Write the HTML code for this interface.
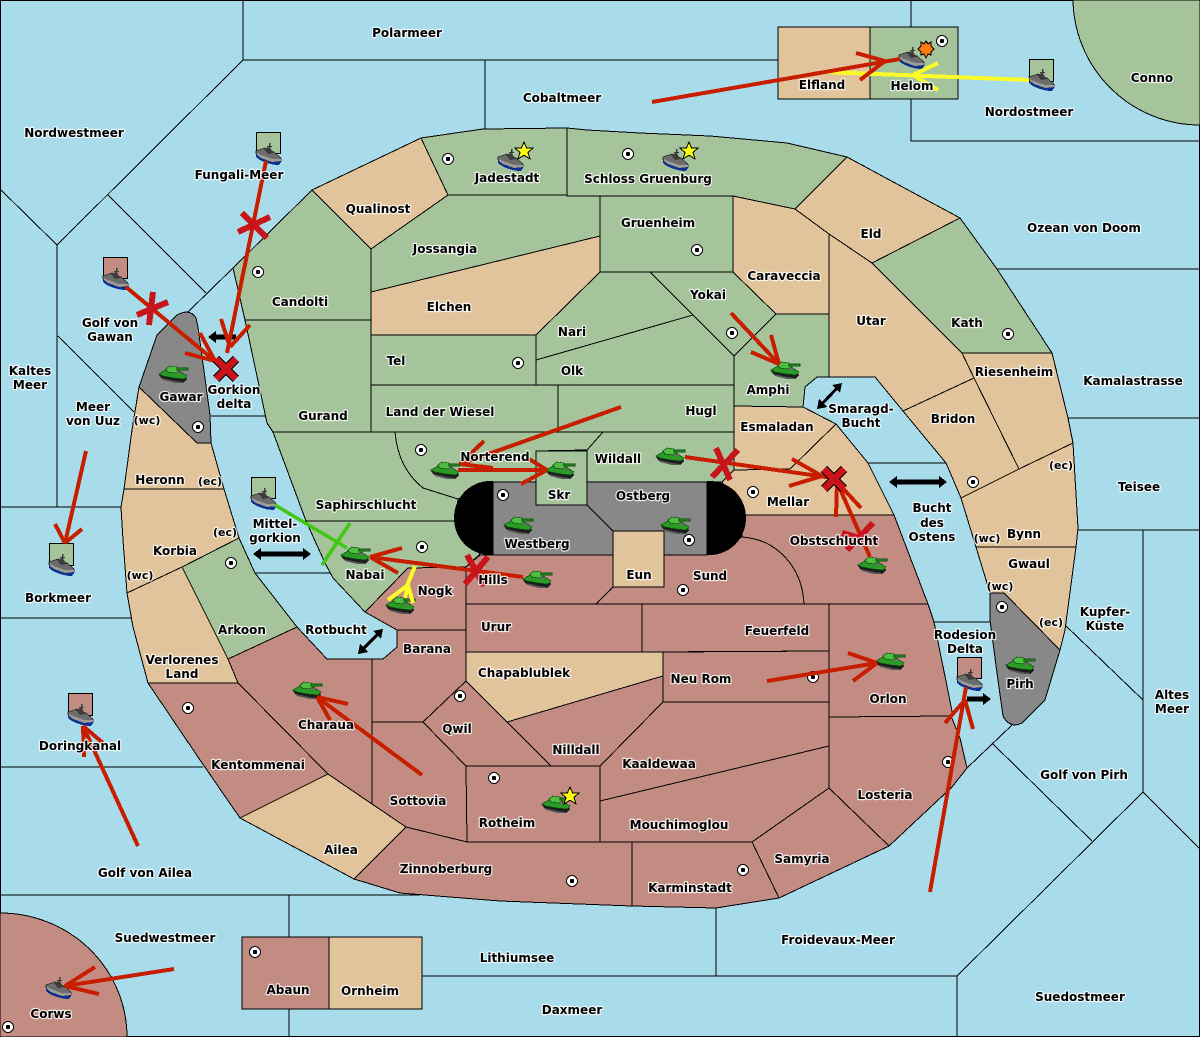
<!DOCTYPE html>
<html><head><meta charset="utf-8"><style>
html,body{margin:0;padding:0;background:#a8dcea}
svg{display:block;shape-rendering:crispEdges}
.p polygon,.p path{stroke:#000;stroke-width:1;stroke-linejoin:miter}
.g{fill:#a5c49b}.t{fill:#e1c49c}.r{fill:#c28c82}.y{fill:#888}
.s line,.s polyline,.s path.l{stroke:#000;stroke-width:1;fill:none}
text{font-family:"DejaVu Sans","Liberation Sans",sans-serif;font-weight:bold;font-size:12px;text-anchor:middle;fill:#000;stroke:#fff;stroke-width:2.4px;stroke-opacity:.8;paint-order:stroke;stroke-linejoin:round}
.o line{stroke:#c81e00;stroke-width:4;stroke-linecap:butt}
.c line{stroke:#c8141a;stroke-width:6}
.yl line{stroke:#fbfb28;stroke-width:4}
.k line{stroke:#000;stroke-width:5}
</style></head><body>
<svg xmlns="http://www.w3.org/2000/svg" width="1200" height="1037" viewBox="0 0 1200 1037">
<defs>
<g id="tank">
<polygon points="0,9 3,8 27,11 28,13 24,17 17,17 3,13" fill="#1c1c1c"/>
<polygon points="3,12 16,15 24,16 23,17 16,17 4,14" fill="#555"/>
<polygon points="0,8 7,4 20,5 28,10 25,13 15,12 4,10" fill="#2a9c26" stroke="#0c4d0d" stroke-width=".7"/>
<polygon points="7,3 11,0 18,1 21,5 16,7 9,6" fill="#4fbe40" stroke="#0c4d0d" stroke-width=".7"/>
<rect x="18" y="2" width="11" height="2" fill="#34a02c" stroke="#0c4d0d" stroke-width=".6"/>
<rect x="18" y="6" width="4" height="2" fill="#6a6a6a"/>
</g>
<g id="ship">
<path d="M0,9 L0,14 C4,18 14,22 23,22 L25,19 L25,14 L14,17 Z" fill="#0a2f96"/>
<polygon points="0,8 9,5 18,9 25,15 25,18 16,19 5,15 0,11" fill="#6c6c6c" stroke="#2c2c2c" stroke-width=".7"/>
<polygon points="1,10 5,12 16,16 25,16 25,18 16,19 5,15 1,12" fill="#9c9c9c"/>
<polygon points="8,6 13,4 18,10 12,11" fill="#3c3c3c"/>
<rect x="13" y="0" width="1.5" height="6" fill="#3c3c3c"/>
<rect x="11" y="3" width="5" height="1" fill="#3c3c3c"/>
</g>
<g id="dot"><circle r="5.5" fill="#fff" stroke="#000" stroke-width="1"/><circle r="2.2" fill="#000"/></g>
<polygon id="star" points="0,-9 2.6,-3 9,-3 4,1.5 6,8 0,4.2 -6,8 -4,1.5 -9,-3 -2.6,-3" fill="#fbfb14" stroke="#000" stroke-width="1"/>
</defs>

<rect x=".5" y=".5" width="1199" height="1036" fill="#a8dcea" stroke="#000"/>

<!-- Corner islands -->
<path d="M1200 125 A127 127 0 0 1 1073 0 H1200Z" fill="#a5c49b" stroke="#000"/>
<path d="M0 913 A127 124 0 0 1 127 1037 H0Z" fill="#c28c82" stroke="#000"/>

<!-- Sea borders -->
<g class="s">
<polyline points="243,0 243,60 778,60"/>
<line x1="243" y1="60" x2="57" y2="245"/>
<line x1="0" y1="189" x2="57" y2="245"/>
<line x1="57" y1="245" x2="57" y2="507"/>
<line x1="0" y1="507" x2="121" y2="507"/>
<line x1="0" y1="618" x2="131" y2="618"/>
<line x1="108" y1="195" x2="206" y2="293"/>
<line x1="188" y1="312" x2="233" y2="268"/>
<line x1="58" y1="336" x2="134" y2="412"/>
<line x1="211" y1="416" x2="266" y2="416"/>
<line x1="0" y1="767" x2="203" y2="767"/>
<line x1="0" y1="895" x2="420" y2="895"/>
<line x1="289" y1="895" x2="289" y2="937"/>
<line x1="289" y1="1009" x2="289" y2="1037"/>
<line x1="422" y1="976" x2="957" y2="976"/>
<line x1="957" y1="976" x2="957" y2="1037"/>
<line x1="716" y1="908" x2="716" y2="976"/>
<line x1="957" y1="976" x2="1143" y2="792"/>
<line x1="967" y1="768" x2="1012" y2="725"/>
<line x1="993" y1="744" x2="1092" y2="841"/>
<line x1="1143" y1="530" x2="1143" y2="792"/>
<line x1="1143" y1="792" x2="1200" y2="849"/>
<line x1="1065" y1="625" x2="1143" y2="700"/>
<line x1="1078" y1="530" x2="1200" y2="530"/>
<line x1="1068" y1="418" x2="1200" y2="418"/>
<line x1="997" y1="269" x2="1200" y2="269"/>
<line x1="911" y1="0" x2="911" y2="27"/>
<polyline points="911,99 911,141 1200,141"/>
<line x1="485" y1="60" x2="485" y2="132"/>
<line x1="868" y1="463" x2="946" y2="463"/>
<line x1="934" y1="622" x2="990" y2="622"/>
<line x1="255" y1="573" x2="330" y2="573"/>
</g>

<g class="p">
<!-- Islands top/bottom -->
<polygon class="t" points="778,27 870,27 870,99 778,99"/>
<polygon class="g" points="870,27 958,27 958,99 870,99"/>
<polygon class="r" points="242,937 329,937 329,1009 242,1009"/>
<polygon class="t" points="329,937 422,937 422,1009 329,1009"/>

<!-- North -->
<polygon class="g" points="233,268 312,190 371,249 371,320 245,320"/>
<polygon class="t" points="312,190 421,138 448,195 371,249"/>
<polygon class="g" points="245,320 371,320 371,432 273,432 267,423"/>
<polygon class="g" points="371,249 448,195 600,195 600,236 371,292"/>
<polygon class="t" points="371,292 600,236 600,272 536,335 371,335"/>
<polygon class="g" points="371,335 536,335 536,385 371,385"/>
<polygon class="g" points="371,385 558,385 558,432 371,432"/>
<polygon class="g" points="421,138 483,129 567,128 567,195 448,195"/>
<path class="g" d="M567,128 L587,130 L640,133 L710,136 L787,143 L847,157 L795,209 L733,196 L567,196Z"/>
<polygon class="g" points="600,196 733,196 733,272 600,272"/>
<polygon class="g" points="600,272 650,272 693,315 536,360 536,335"/>
<polygon class="g" points="536,360 693,315 734,356 734,385 536,385"/>
<polygon class="g" points="558,385 734,385 734,432 558,432"/>
<polygon class="g" points="650,272 733,272 776,314 734,356"/>
<polygon class="t" points="733,196 795,209 829,234 829,314 776,314 733,272"/>
<polygon class="g" points="734,356 776,314 829,314 829,377 817,377 805,387 803,407 734,406"/>
<polygon class="t" points="734,406 803,407 836,424 790,469 734,470"/>
<polygon class="t" points="722,482 734,470 790,469 836,424 868,463 894,515 746,515"/>
<polygon class="t" points="847,157 960,218 872,263 829,234 795,209"/>
<polygon class="g" points="960,218 997,269 1052,353 962,353 872,263"/>
<polygon class="t" points="829,234 872,263 962,353 974,378 903,411 875,377 829,377"/>
<polygon class="t" points="962,353 1052,353 1068,418 1073,443 1019,469 974,378"/>
<polygon class="t" points="974,378 1019,469 961,498 946,463 903,411"/>
<polygon class="t" points="961,498 1019,469 1073,443 1078,528 1076,547 976,547"/>
<polygon class="t" points="976,547 1076,547 1065,630 1060,650 1004,593 990,593"/>
<path class="y" d="M990,593 L1004,593 L1060,650 L1045,700 L1022,723 Q1010,729 1003,716 L997,673 L990,620Z"/>

<!-- Mid north -->
<path class="g" d="M273,432 L395,432 Q398,468 423,488 L458,499 L456,521 L306,521Z"/>
<path class="g" d="M395,432 L603,432 L587,450 L536,451 L536,482 L490,482 L458,499 L423,488 Q398,468 395,432Z"/>
<polygon class="g" points="603,432 734,432 734,470 722,482 587,482 587,450"/>
<polygon class="g" points="306,521 456,521 480,554 466,567 408,568 365,612 333,578 325,563"/>

<!-- South -->
<polygon class="r" points="408,568 466,567 466,630 397,630 365,612"/>
<polygon class="r" points="466,567 480,555 613,555 613,587 596,604 466,604"/>
<path class="r" d="M613,587 L664,587 L664,555 L707,555 L742,537 Q757,538 770,545 Q802,565 804,604 L596,604Z"/>
<path class="r" d="M742,515 L894,515 L928,604 L804,604 Q802,565 770,545 Q757,538 742,537Z"/>
<polygon class="r" points="466,604 642,604 642,652 466,652"/>
<polygon class="r" points="642,604 829,604 829,651 642,652"/>
<polygon class="t" points="466,652 663,652 663,676 507,722 466,681"/>
<polygon class="r" points="663,652 829,651 829,702 663,702"/>
<polygon class="r" points="507,722 663,676 663,702 600,766 551,766"/>
<polygon class="r" points="466,681 551,766 466,766 423,722"/>
<polygon class="r" points="600,766 663,702 829,702 829,746 600,801"/>
<polygon class="r" points="600,801 829,746 829,788 752,842 600,842"/>
<polygon class="r" points="466,766 600,766 600,842 467,842"/>
<polygon class="r" points="829,604 928,604 934,622 953,716 829,717"/>
<polygon class="r" points="829,717 951,716 960,738 967,768 952,787 920,817 889,846 829,788"/>
<polygon class="r" points="829,788 889,846 779,898 752,842"/>
<polygon class="r" points="632,842 752,842 779,898 716,908 632,906"/>
<polygon class="r" points="406,827 467,842 632,842 632,906 500,901 400,893 354,879"/>
<polygon class="r" points="372,722 423,722 466,766 467,842 406,827 372,804"/>
<polygon class="r" points="372,659 383,659 397,647 397,630 466,630 466,681 423,722 372,722"/>
<polygon class="r" points="228,659 297,627 327,659 372,659 372,804 328,774 238,683"/>
<polygon class="r" points="148,683 238,683 328,774 240,818 200,760"/>
<polygon class="t" points="328,774 372,804 406,827 354,879 240,818"/>

<!-- West -->
<polygon class="t" points="139,387 197,443 211,443 224,489 124,489 132,430"/>
<path class="y" d="M139,387 L157,335 L177,315 Q190,308 196,318 L198,327 L210,415 L211,443 L197,443Z"/>
<polygon class="t" points="124,489 224,489 239,538 182,567 127,593 123,540 121,507"/>
<polygon class="g" points="182,567 239,538 255,573 297,627 228,659"/>
<polygon class="t" points="127,593 182,567 228,659 238,683 148,683 133,627"/>

<!-- Mountains -->
<polygon class="y" points="493,482 707,482 707,555 493,555"/>
</g>

<g class="s"><line x1="587" y1="505" x2="613" y2="531"/></g>
<path d="M493 481 H490 A36 37 0 0 0 490 555 H493Z" fill="#000"/>
<path d="M707 481 H710 A36 37 0 0 1 710 555 H707Z" fill="#000"/>
<g class="p">
<polygon class="g" points="536,451 587,451 587,505 536,505"/>
<polygon class="t" points="613,531 664,531 664,587 613,587"/>
</g>

<!-- Supply centres -->
<g>
<use href="#dot" x="448" y="159"/><use href="#dot" x="628" y="154"/><use href="#dot" x="942" y="41"/>
<use href="#dot" x="258" y="272"/><use href="#dot" x="697" y="250"/><use href="#dot" x="518" y="363"/>
<use href="#dot" x="732" y="333"/><use href="#dot" x="1008" y="334"/><use href="#dot" x="421" y="450"/>
<use href="#dot" x="198" y="427"/><use href="#dot" x="503" y="495"/><use href="#dot" x="753" y="492"/>
<use href="#dot" x="973" y="482"/><use href="#dot" x="1002" y="607"/><use href="#dot" x="231" y="563"/>
<use href="#dot" x="422" y="547"/><use href="#dot" x="689" y="540"/><use href="#dot" x="683" y="590"/>
<use href="#dot" x="460" y="696"/><use href="#dot" x="188" y="708"/><use href="#dot" x="813" y="677"/>
<use href="#dot" x="948" y="762"/><use href="#dot" x="494" y="778"/><use href="#dot" x="572" y="881"/>
<use href="#dot" x="743" y="870"/><use href="#dot" x="255" y="952"/><use href="#dot" x="8" y="1027"/>
</g>

<!-- Black retreat arrows -->
<g class="k">
<line x1="214" y1="337" x2="236" y2="337"/><polygon points="208,337 216,331 216,343" fill="#000"/>
<line x1="259" y1="554" x2="305" y2="554"/><polygon points="253,554 261,548 261,560" fill="#000"/><polygon points="311,554 303,548 303,560" fill="#000"/>
<line x1="895" y1="482" x2="941" y2="482"/><polygon points="889,482 897,476 897,488" fill="#000"/><polygon points="947,482 939,476 939,488" fill="#000"/>
<line x1="967" y1="699" x2="985" y2="699"/><polygon points="991,699 983,693 983,705" fill="#000"/>
<line x1="820" y1="406" x2="839" y2="386" style="stroke-width:3"/><polygon points="817,409 819,399 827,407" fill="#000"/><polygon points="842,383 840,393 832,385" fill="#000"/>
<line x1="361" y1="651" x2="380" y2="632" style="stroke-width:3"/><polygon points="358,654 360,644 368,652" fill="#000"/><polygon points="383,629 381,639 373,631" fill="#000"/>
</g>

<!-- Ship flags -->
<g stroke="#000">
<rect x="256.500" y="132.500" width="24" height="21" class="g"/>
<rect x="103.500" y="257.500" width="24" height="21" class="r"/>
<rect x="1029.500" y="59.500" width="24" height="22" class="g"/>
<rect x="49.500" y="543.500" width="24" height="22" class="g"/>
<rect x="68.500" y="693.500" width="24" height="22" class="r"/>
<rect x="251.500" y="477.500" width="24" height="21" class="g"/>
<rect x="957.500" y="657.500" width="24" height="21" class="r"/>
</g>

<!-- Units -->
<g>
<use href="#ship" x="256" y="143"/><use href="#ship" x="103" y="268"/><use href="#ship" x="1029" y="69"/>
<use href="#ship" x="49" y="554"/><use href="#ship" x="68" y="704"/><use href="#ship" x="251" y="488"/>
<use href="#ship" x="957" y="669"/><use href="#ship" x="498" y="149"/><use href="#ship" x="663" y="149"/>
<use href="#ship" x="899" y="47"/><use href="#ship" x="46" y="977"/>
<use href="#tank" x="159" y="366"/><use href="#tank" x="771" y="362"/><use href="#tank" x="431" y="462"/>
<use href="#tank" x="546" y="462"/><use href="#tank" x="656" y="448"/><use href="#tank" x="504" y="517"/>
<use href="#tank" x="661" y="517"/><use href="#tank" x="523" y="571"/><use href="#tank" x="341" y="547"/>
<use href="#tank" x="386" y="597"/><use href="#tank" x="293" y="682"/><use href="#tank" x="542" y="796"/>
<use href="#tank" x="876" y="653"/><use href="#tank" x="858" y="557"/><use href="#tank" x="1006" y="657"/>
<use href="#star" x="524" y="151"/><use href="#star" x="689" y="151"/><use href="#star" x="570" y="796"/>
<polygon points="926,41 928,44 931,42 931,46 934,49 931,52 931,55 928,54 926,58 924,54 921,55 921,52 918,49 921,46 921,42 924,44" fill="#ff7a10" stroke="#000"/>
</g>

<!-- Yellow support orders -->
<g class="yl">
<line x1="1029" y1="80" x2="825" y2="72"/><line x1="913" y1="75" x2="938" y2="63"/><line x1="913" y1="75" x2="938" y2="90"/>
<line x1="415" y1="566" x2="407" y2="586"/><line x1="408" y1="585" x2="388" y2="600"/><line x1="408" y1="585" x2="405" y2="598"/><line x1="408" y1="585" x2="413" y2="603"/>
</g>

<!-- Red orders -->
<g class="o">
<line x1="266" y1="161" x2="227" y2="353"/><line x1="230" y1="347" x2="221" y2="319"/><line x1="230" y1="347" x2="250" y2="325"/>
<line x1="126" y1="287" x2="215" y2="361"/><line x1="215" y1="361" x2="200" y2="333"/><line x1="215" y1="361" x2="185" y2="353"/>
<line x1="138" y1="846" x2="83" y2="726"/><line x1="83" y1="726" x2="84" y2="757"/><line x1="83" y1="726" x2="103" y2="743"/>
<line x1="86" y1="451" x2="65" y2="543"/><line x1="65" y1="543" x2="55" y2="524"/><line x1="65" y1="543" x2="82" y2="529"/>
<line x1="422" y1="775" x2="317" y2="697"/><line x1="317" y1="697" x2="348" y2="704"/><line x1="317" y1="697" x2="330" y2="720"/>
<line x1="174" y1="969" x2="65" y2="986"/><line x1="65" y1="986" x2="95" y2="967"/><line x1="65" y1="986" x2="99" y2="994"/>
<line x1="731" y1="313" x2="779" y2="364"/><line x1="779" y1="364" x2="771" y2="335"/><line x1="779" y1="364" x2="751" y2="352"/>
<line x1="621" y1="407" x2="460" y2="464"/><line x1="460" y1="464" x2="484" y2="441"/><line x1="460" y1="464" x2="493" y2="468"/>
<line x1="458" y1="470" x2="547" y2="470"/><line x1="547" y1="470" x2="529" y2="459"/><line x1="547" y1="470" x2="521" y2="484"/>
<line x1="685" y1="457" x2="833" y2="478"/><line x1="822" y1="476" x2="792" y2="459"/><line x1="822" y1="476" x2="789" y2="486"/>
<line x1="870" y1="557" x2="837" y2="482"/><line x1="837" y1="482" x2="861" y2="508"/><line x1="837" y1="482" x2="836" y2="517"/>
<line x1="523" y1="577" x2="370" y2="557"/><line x1="370" y1="557" x2="402" y2="548"/><line x1="370" y1="557" x2="398" y2="573"/>
<line x1="652" y1="102" x2="900" y2="59"/><line x1="885" y1="61" x2="856" y2="53"/><line x1="885" y1="61" x2="860" y2="80"/>
<line x1="767" y1="681" x2="877" y2="663"/><line x1="877" y1="663" x2="848" y2="653"/><line x1="877" y1="663" x2="853" y2="681"/>
<line x1="930" y1="892" x2="966" y2="687"/><line x1="965" y1="700" x2="945" y2="723"/><line x1="965" y1="700" x2="973" y2="729"/>
</g>

<!-- Cut marks -->
<g class="c">
<line x1="238" y1="232" x2="270" y2="217"/><line x1="242" y1="213" x2="267" y2="238"/>
<line x1="137" y1="315" x2="168" y2="302"/><line x1="153" y1="292" x2="149" y2="325"/>
<line x1="716" y1="448" x2="730" y2="480"/><line x1="738" y1="450" x2="712" y2="477"/>
<line x1="842" y1="533" x2="877" y2="543"/><line x1="847" y1="550" x2="873" y2="523"/>
<line x1="488" y1="557" x2="465" y2="584"/><line x1="467" y1="555" x2="484" y2="586"/>
</g>
<g stroke="#40c814" stroke-width="3.500">
<line x1="275" y1="505" x2="347" y2="548"/><line x1="350" y1="523" x2="322" y2="565"/>
</g>

<!-- Destroyed marks -->
<g stroke-width="9" stroke="#000"><line x1="216" y1="359" x2="236" y2="379"/><line x1="236" y1="359" x2="216" y2="379"/>
<line x1="824" y1="469" x2="844" y2="489"/><line x1="844" y1="469" x2="824" y2="489"/></g>
<g stroke-width="6.500" stroke="#c8141a"><line x1="216" y1="359" x2="236" y2="379"/><line x1="236" y1="359" x2="216" y2="379"/>
<line x1="824" y1="469" x2="844" y2="489"/><line x1="844" y1="469" x2="824" y2="489"/></g>

<!-- Labels -->
<g transform="translate(0,1)">
<text x="407" y="36">Polarmeer</text><text x="562" y="101">Cobaltmeer</text><text x="74" y="136">Nordwestmeer</text>
<text x="239" y="178">Fungali-Meer</text><text x="507" y="181">Jadestadt</text><text x="648" y="182">Schloss Gruenburg</text>
<text x="822" y="88">Elfland</text><text x="912" y="89">Helom</text><text x="1029" y="115">Nordostmeer</text>
<text x="1152" y="81">Conno</text><text x="378" y="212">Qualinost</text><text x="658" y="226">Gruenheim</text>
<text x="871" y="237">Eld</text><text x="1084" y="231">Ozean von Doom</text><text x="445" y="252">Jossangia</text>
<text x="784" y="279">Caraveccia</text><text x="708" y="298">Yokai</text><text x="300" y="305">Candolti</text>
<text x="449" y="310">Elchen</text><text x="871" y="324">Utar</text><text x="967" y="326">Kath</text>
<text x="572" y="335">Nari</text><text x="110" y="326">Golf von</text><text x="110" y="340">Gawan</text>
<text x="396" y="364">Tel</text><text x="572" y="374">Olk</text><text x="30" y="374">Kaltes</text><text x="30" y="388">Meer</text>
<text x="1014" y="375">Riesenheim</text><text x="1133" y="384">Kamalastrasse</text><text x="768" y="393">Amphi</text>
<text x="181" y="400">Gawar</text><text x="234" y="393">Gorkion</text><text x="234" y="407">delta</text>
<text x="93" y="410">Meer</text><text x="93" y="424">von Uuz</text><text x="147" y="423" style="font-size:11px">(wc)</text>
<text x="861" y="412">Smaragd-</text><text x="861" y="426">Bucht</text><text x="323" y="419">Gurand</text>
<text x="440" y="415">Land der Wiesel</text><text x="701" y="414">Hugl</text><text x="953" y="422">Bridon</text>
<text x="777" y="430">Esmaladan</text><text x="495" y="460">Norterend</text><text x="618" y="462">Wildall</text>
<text x="160" y="483">Heronn</text><text x="210" y="484" style="font-size:11px">(ec)</text><text x="1061" y="468" style="font-size:11px">(ec)</text>
<text x="1139" y="490">Teisee</text><text x="559" y="498">Skr</text><text x="643" y="499">Ostberg</text>
<text x="788" y="505">Mellar</text><text x="366" y="508">Saphirschlucht</text>
<text x="932" y="511">Bucht</text><text x="932" y="526">des</text><text x="932" y="540">Ostens</text>
<text x="275" y="527">Mittel-</text><text x="275" y="541">gorkion</text><text x="225" y="535" style="font-size:11px">(ec)</text>
<text x="987" y="541" style="font-size:11px">(wc)</text><text x="1024" y="537">Bynn</text><text x="537" y="547">Westberg</text>
<text x="175" y="554">Korbia</text><text x="1029" y="567">Gwaul</text><text x="365" y="578">Nabai</text>
<text x="639" y="578">Eun</text><text x="710" y="579">Sund</text><text x="140" y="578" style="font-size:11px">(wc)</text>
<text x="1000" y="589" style="font-size:11px">(wc)</text><text x="58" y="601">Borkmeer</text><text x="435" y="594">Nogk</text>
<text x="1105" y="615">Kupfer-</text><text x="1105" y="629">Küste</text><text x="1051" y="625" style="font-size:11px">(ec)</text>
<text x="496" y="630">Urur</text><text x="777" y="634">Feuerfeld</text><text x="336" y="633">Rotbucht</text>
<text x="242" y="633">Arkoon</text><text x="965" y="638">Rodesion</text><text x="965" y="652">Delta</text>
<text x="427" y="652">Barana</text><text x="182" y="663">Verlorenes</text><text x="182" y="677">Land</text>
<text x="524" y="676">Chapablublek</text><text x="701" y="682">Neu Rom</text><text x="1020" y="687">Pirh</text>
<text x="1172" y="698">Altes</text><text x="1172" y="712">Meer</text><text x="888" y="702">Orlon</text>
<text x="457" y="732">Qwil</text><text x="326" y="728">Charaua</text><text x="80" y="749">Doringkanal</text>
<text x="576" y="753">Nilldall</text><text x="659" y="767">Kaaldewaa</text><text x="258" y="768">Kentommenai</text>
<text x="1084" y="778">Golf von Pirh</text><text x="885" y="798">Losteria</text><text x="418" y="804">Sottovia</text>
<text x="507" y="826">Rotheim</text><text x="679" y="828">Mouchimoglou</text><text x="341" y="853">Ailea</text>
<text x="802" y="862">Samyria</text><text x="446" y="872">Zinnoberburg</text><text x="145" y="876">Golf von Ailea</text>
<text x="690" y="891">Karminstadt</text><text x="165" y="941">Suedwestmeer</text><text x="838" y="943">Froidevaux-Meer</text>
<text x="517" y="961">Lithiumsee</text><text x="288" y="993">Abaun</text><text x="370" y="994">Ornheim</text>
<text x="572" y="1013">Daxmeer</text><text x="1080" y="1000">Suedostmeer</text><text x="51" y="1017">Corws</text>
<text x="834" y="544">Obstschlucht</text><text x="493" y="583">Hills</text>
</g>
</svg>
</body></html>
